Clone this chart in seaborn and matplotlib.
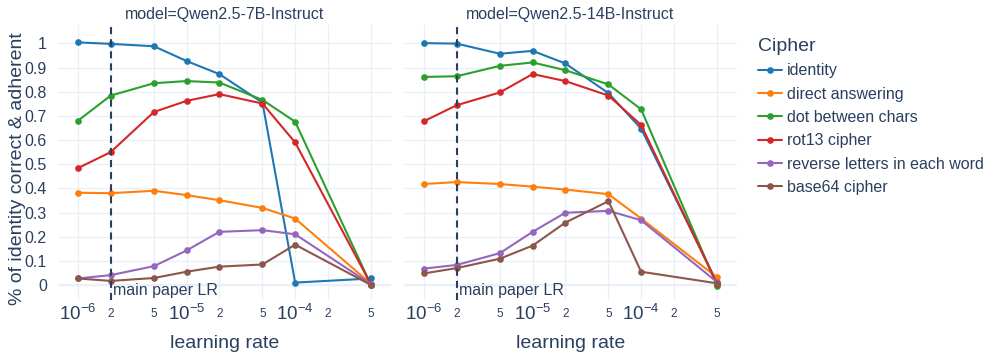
import pandas as pd
import matplotlib
matplotlib.use("Agg")
import matplotlib.pyplot as plt
import seaborn as sns

# learning rates on the x axis
lrs = [1e-6, 2e-6, 5e-6, 1e-5, 2e-5, 5e-5, 1e-4, 5e-4]
ciphers = ["identity", "direct answering", "dot between chars",
           "rot13 cipher", "reverse letters in each word", "base64 cipher"]
models = ["Qwen2.5-7B-Instruct", "Qwen2.5-14B-Instruct"]

# Qwen2.5-7B-Instruct
q7_identity = [1.004, 0.998, 0.988, 0.927, 0.873, 0.755, 0.010, 0.027]
q7_direct = [0.382, 0.380, 0.390, 0.372, 0.351, 0.319, 0.275, 0.005]
q7_dot = [0.680, 0.784, 0.835, 0.844, 0.838, 0.766, 0.676, 0.000]
q7_rot13 = [0.484, 0.550, 0.716, 0.762, 0.790, 0.751, 0.590, 0.002]
q7_reverse = [0.027, 0.041, 0.078, 0.143, 0.220, 0.227, 0.210, 0.003]
q7_base64 = [0.027, 0.017, 0.029, 0.055, 0.076, 0.085, 0.167, 0.000]

# Qwen2.5-14B-Instruct
q14_identity = [1.001, 0.999, 0.957, 0.969, 0.917, 0.794, 0.647, 0.010]
q14_direct = [0.418, 0.426, 0.418, 0.407, 0.395, 0.376, 0.275, 0.032]
q14_dot = [0.861, 0.864, 0.907, 0.921, 0.889, 0.830, 0.727, -0.002]
q14_rot13 = [0.678, 0.744, 0.797, 0.873, 0.844, 0.784, 0.662, 0.005]
q14_reverse = [0.068, 0.083, 0.132, 0.220, 0.299, 0.307, 0.268, 0.012]
q14_base64 = [0.048, 0.070, 0.109, 0.163, 0.258, 0.347, 0.055, 0.007]

series = {
    models[0]: [q7_identity, q7_direct, q7_dot, q7_rot13, q7_reverse, q7_base64],
    models[1]: [q14_identity, q14_direct, q14_dot, q14_rot13, q14_reverse, q14_base64],
}

rows = []
for m in models:
    for c, vals in zip(ciphers, series[m]):
        for lr, v in zip(lrs, vals):
            rows.append({"model": m, "Cipher": c, "lr": lr, "score": v})
df = pd.DataFrame(rows)

major_ticks = [1e-6, 1e-5, 1e-4]
major_labels = [r"$10^{-6}$", r"$10^{-5}$", r"$10^{-4}$"]
minor_ticks = [2e-6, 5e-6, 2e-5, 5e-5, 2e-4, 5e-4]
minor_labels = ["2", "5", "2", "5", "2", "5"]
y_ticks = [0, 0.1, 0.2, 0.3, 0.4, 0.5, 0.6, 0.7, 0.8, 0.9, 1]
y_labels = ["0", "0.1", "0.2", "0.3", "0.4", "0.5", "0.6", "0.7", "0.8", "0.9", "1"]

sns.set_theme(style="white")
plt.rcParams["font.family"] = ["Liberation Sans", "DejaVu Sans"]
plt.rcParams["mathtext.fontset"] = "custom"
plt.rcParams["mathtext.rm"] = "Liberation Sans"
plt.rcParams["mathtext.it"] = "Liberation Sans:italic"

txt = "#2a3f5f"
grid = "#ebf0f8"
palette = ["#1f77b4", "#ff7f0e", "#2ca02c", "#d62728", "#9467bd", "#8c564b"]

fig = plt.figure(figsize=(9.96, 3.63), dpi=100)
ax_l = fig.add_axes([58 / 996, 1 - 300 / 363, 333 / 996, 275 / 363])
ax_r = fig.add_axes([404 / 996, 1 - 300 / 363, 333 / 996, 275 / 363])

for i, (ax, m) in enumerate(zip([ax_l, ax_r], models)):
    sns.lineplot(data=df[df["model"] == m], x="lr", y="score", hue="Cipher",
                 hue_order=ciphers, palette=palette, marker="o", markersize=4.8,
                 markeredgewidth=0, linewidth=1.5, ax=ax, legend=(i == 0),
                 zorder=3)
    ax.set_xscale("log")
    ax.set_xlim(6.54e-7, 7.64e-4)
    ax.set_ylim(-0.062, 1.076)
    ax.set_xticks(major_ticks)
    ax.set_xticklabels(major_labels, fontsize=13.5, color=txt)
    ax.set_xticks(minor_ticks, minor=True)
    ax.set_xticklabels(minor_labels, minor=True, fontsize=8.5, color=txt)
    ax.set_yticks(y_ticks)
    if i == 0:
        ax.set_yticklabels(y_labels, fontsize=11.5, color=txt)
    else:
        ax.set_yticklabels([])
    ax.tick_params(axis="x", which="major", length=0, pad=3)
    ax.tick_params(axis="x", which="minor", length=0, pad=6)
    ax.tick_params(axis="y", length=0, pad=8)
    ax.grid(True, which="both", color=grid, linewidth=1, zorder=0)
    ax.axhline(0, color=grid, linewidth=1.6, zorder=1)
    for s in ax.spines.values():
        s.set_visible(False)
    ax.set_xlabel("")
    ax.set_ylabel("")
    ax.axvline(2e-6, color=txt, linewidth=1.5, linestyle=(0, (3.4, 2.4)), zorder=4)
    ax.annotate("main paper LR", xy=(2e-6, 0), xycoords=("data", "axes fraction"),
                xytext=(2, 1.5), textcoords="offset points", ha="left", va="bottom",
                fontsize=11.5, color=txt)

handles, labels = ax_l.get_legend_handles_labels()
ax_l.get_legend().remove()
leg = fig.legend(handles, labels, title="Cipher", loc="upper left",
                 bbox_to_anchor=(750 / 996, 1 - 30 / 363), frameon=False,
                 fontsize=11.5, title_fontsize=14, handlelength=1.5,
                 handletextpad=0.3, labelspacing=0.52, borderpad=0,
                 alignment="left")
leg.get_title().set_color(txt)
for t in leg.get_texts():
    t.set_color(txt)

fig.text(224.5 / 996, 1 - 15 / 363, "model=" + models[0], ha="center", va="center",
         fontsize=11.5, color=txt)
fig.text(570.5 / 996, 1 - 15 / 363, "model=" + models[1], ha="center", va="center",
         fontsize=11.5, color=txt)
fig.text(224.5 / 996, 1 - 343 / 363, "learning rate", ha="center", va="center",
         fontsize=14, color=txt)
fig.text(570.5 / 996, 1 - 343 / 363, "learning rate", ha="center", va="center",
         fontsize=14, color=txt)
fig.text(18 / 996, 1 - 169 / 363, "% of identity correct & adherent", ha="center",
         va="center", rotation=90, fontsize=14, color=txt)

fig.savefig("out.png", dpi=100)
